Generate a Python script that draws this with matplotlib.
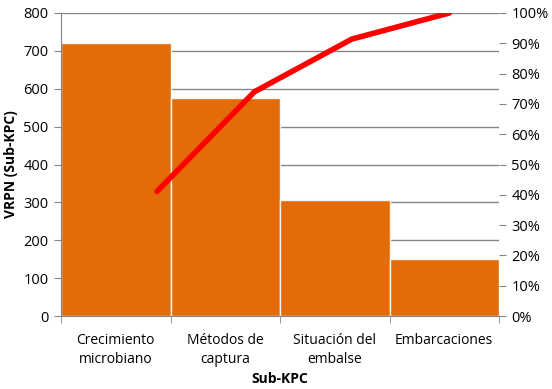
import matplotlib
matplotlib.use("Agg")
import matplotlib.pyplot as plt
import numpy as np

categories = ["Crecimiento\nmicrobiano", "Métodos de\ncaptura", "Situación del\nembalse", "Embarcaciones"]
values = [720, 575, 305, 150]
cumulative_pct = [0.411, 0.74, 0.914, 1.0]
y_ticks = [0, 100, 200, 300, 400, 500, 600, 700, 800]
pct_ticks = [0, 0.1, 0.2, 0.3, 0.4, 0.5, 0.6, 0.7, 0.8, 0.9, 1.0]

plt.rcParams['font.family'] = ['Open Sans', 'DejaVu Sans']
gray = "#868686"

fig = plt.figure(figsize=(5.52, 3.89), dpi=100)
pos = [61/552, 1-316/389, (499-61)/552, (316-13)/389]
ax = fig.add_axes(pos)
x = np.arange(len(categories))
ax.bar(x, values, width=1.0, color="#E36C09", edgecolor="#F5F5F0", linewidth=1.0, zorder=2)
ax.set_xlim(-0.5, len(categories)-0.5)
ax.set_ylim(0, 800)
ax.set_yticks(y_ticks)
ax.yaxis.grid(True, color=gray, linewidth=1.0, zorder=0)
ax.set_axisbelow(True)
ax.set_xticks(x)
ax.set_xticklabels(categories, fontsize=10, linespacing=1.35)
ax.set_xticks(np.arange(-0.5, len(categories)), minor=True)
ax.tick_params(axis='x', which='major', length=0, pad=12)
ax.tick_params(axis='x', which='minor', length=5, color=gray)
ax.tick_params(axis='y', length=5, color=gray, labelsize=10.5, pad=4)
for s in ['top', 'right']:
    ax.spines[s].set_visible(False)
for s in ['left', 'bottom']:
    ax.spines[s].set_color(gray)
ax.set_ylabel("VRPN (Sub-KPC)", fontsize=10, fontweight='bold', labelpad=4)
ax.set_xlabel("Sub-KPC", fontsize=10, fontweight='bold', labelpad=0)
ax.xaxis.set_label_coords(0.5, -0.185)

ax2 = fig.add_axes(pos, frameon=False)
ax2.plot(np.arange(len(cumulative_pct)), cumulative_pct, color="#FF0000", linewidth=4.0,
         solid_capstyle='round', zorder=3)
ax2.set_xlim(-0.985, 3.51)
ax2.set_ylim(0, 1.0)
ax2.set_xticks([])
ax2.yaxis.tick_right()
ax2.set_yticks(pct_ticks)
ax2.set_yticklabels([f"{int(round(p*100))}%" for p in pct_ticks])
ax2.tick_params(axis='y', length=5, color=gray, labelsize=10.5, pad=4)
ax2.spines['right'].set_visible(True)
ax2.spines['right'].set_color(gray)

fig.savefig("out.png", dpi=100)
